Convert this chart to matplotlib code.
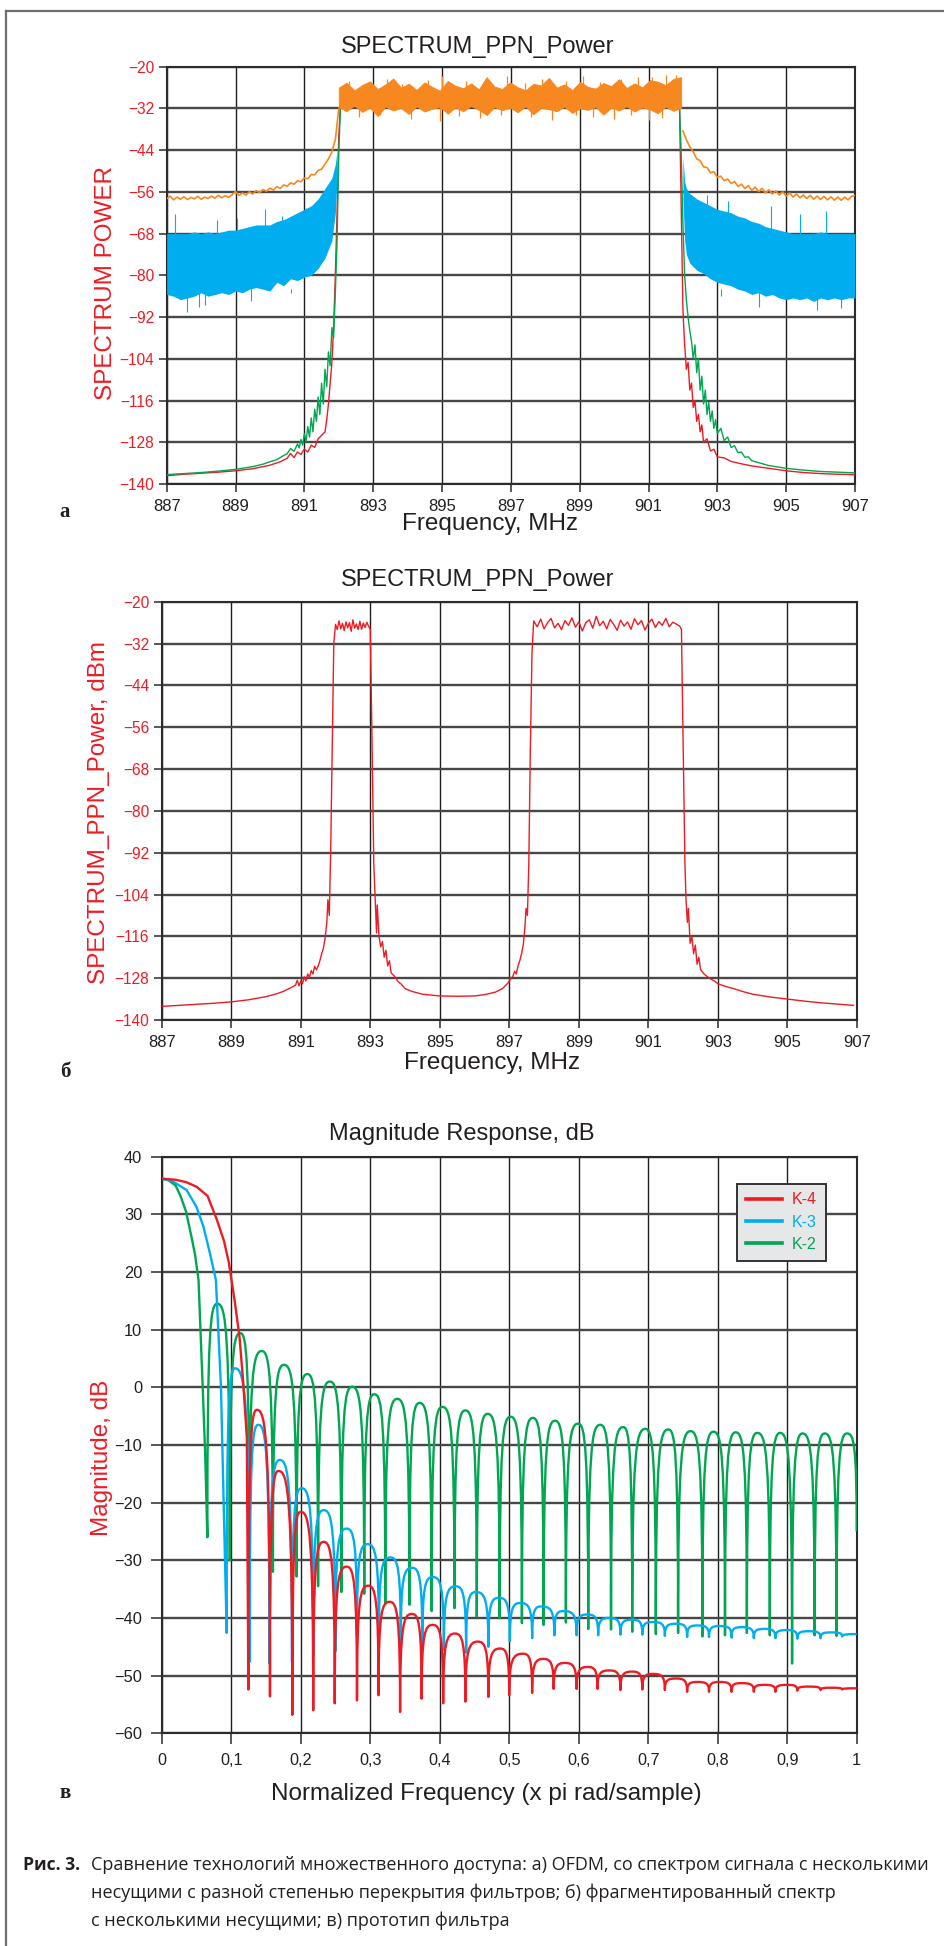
import numpy as np
import matplotlib
matplotlib.use("Agg")
import matplotlib.pyplot as plt
from matplotlib.lines import Line2D
from matplotlib.path import Path
from matplotlib.patches import PathPatch

plt.rcParams['font.family'] = ['Liberation Sans', 'DejaVu Sans']

RED = '#ed1c24'
ORANGE = '#f7871f'
BLUE = '#00aeef'
GREEN = '#00a651'
INK = '#231f20'

# ---------------- data: chart a (four spectra) ----------------
freq_ticks = [887, 889, 891, 893, 895, 897, 899, 901, 903, 905, 907]
power_ticks = [-140, -128, -116, -104, -92, -80, -68, -56, -44, -32, -20]

# orange, skirts sampled every 0.1 MHz
orange_left_x = np.linspace(887.0, 892.0, 51)
orange_left_db = [-58.0, -57.2, -58.3, -57.5, -58.1, -57.4, -58.2, -57.6, -58.0, -57.3,
                  -58.1, -57.5, -57.9, -57.2, -57.8, -57.0, -57.7, -57.1, -57.6, -56.8,
                  -55.9, -57.0, -56.3, -56.9, -56.0, -56.6, -55.6, -56.2, -55.3, -55.8,
                  -54.9, -55.5, -54.5, -55.0, -54.0, -54.4, -53.4, -53.8, -52.8, -53.1,
                  -52.0, -52.2, -51.0, -51.1, -49.8, -49.5, -48.0, -46.5, -44.5, -41.0,
                  -32.0]
orange_right_x = np.linspace(902.0, 907.0, 51)
orange_right_db = [-38.5, -41.0, -43.0, -44.5, -46.5, -47.0, -48.8, -49.0, -50.5, -50.2,
                   -51.8, -51.5, -52.8, -52.3, -53.6, -53.0, -54.4, -53.8, -55.0, -54.2,
                   -55.6, -54.6, -55.9, -55.0, -56.3, -55.4, -56.6, -55.7, -56.9, -56.0,
                   -57.2, -56.3, -57.5, -56.6, -57.7, -56.9, -57.9, -57.0, -58.1, -57.2,
                   -58.2, -57.3, -58.3, -57.4, -58.4, -57.5, -58.4, -57.5, -58.3, -57.3,
                   -57.0]
# orange pass band: upper / lower edge of the noise, plus single spikes
orange_band_x = np.linspace(892.0, 901.95, 45)
orange_band_hi = [-26.0, -24.6, -26.8, -25.3, -24.2, -26.4, -25.1, -23.4, -26.0, -24.9,
                  -26.7, -24.5, -25.8, -26.9, -24.1, -25.5, -26.2, -24.8, -26.5, -23.0,
                  -25.7, -26.4, -24.5, -25.9, -26.8, -24.9, -25.4, -23.2, -26.0, -25.1,
                  -26.7, -24.4, -25.8, -26.3, -24.7, -25.6, -23.6, -26.1, -24.8, -25.9,
                  -23.9, -24.3, -25.3, -23.5, -23.0]
orange_band_lo = [-31.6, -32.8, -31.2, -33.0, -31.8, -34.2, -31.5, -32.6, -31.9, -33.6,
                  -31.4, -32.9, -32.1, -31.6, -33.5, -31.7, -32.8, -31.3, -32.4, -33.9,
                  -31.6, -32.5, -31.8, -33.1, -31.4, -33.7, -31.9, -32.2, -32.8, -31.5,
                  -33.3, -32.0, -32.4, -31.6, -33.8, -31.8, -32.6, -31.4, -32.9, -31.7,
                  -32.3, -33.4, -31.5, -32.7, -31.8]
orange_spike_x = [892.3, 892.9, 893.4, 893.85, 894.6, 895.0, 895.7, 896.3, 896.9, 897.4,
                  897.9, 898.6, 899.1, 899.6, 900.2, 900.7, 901.1, 901.5, 901.8]
orange_spike_top = [-24.0, -24.5, -23.5, -25.0, -23.8, -22.6, -24.2, -23.9, -22.8, -24.6,
                    -23.4, -24.0, -22.6, -24.3, -23.6, -23.1, -22.9, -22.4, -22.3]
orange_dip_x = [892.6, 893.2, 894.1, 894.95, 895.5, 896.1, 896.7, 897.6, 898.2, 898.9,
                899.4, 900.0, 900.5, 901.0, 901.4]
orange_dip_bottom = [-34.5, -34.0, -35.0, -35.5, -34.2, -34.8, -33.8, -34.6, -35.2, -34.0,
                     -34.4, -35.0, -33.9, -35.3, -34.7]

# blue: dense noise band, upper / lower edge
blue_left_x = [887.0, 887.2, 887.4, 887.6, 887.8, 888.0, 888.2, 888.4, 888.6, 888.8,
               889.0, 889.2, 889.4, 889.6, 889.8, 890.0, 890.2, 890.4, 890.6, 890.8,
               891.0, 891.2, 891.4, 891.6, 891.8, 891.9, 891.95]
blue_left_hi = [-68, -68, -68, -68, -67.5, -68, -67.5, -68, -67.5, -67,
                -67, -66.5, -66, -65.5, -65.5, -65.5, -64.5, -64, -63, -62,
                -61, -60, -58, -55, -52, -48, -44]
blue_left_lo = [-85.5, -86, -87, -86.5, -86, -85, -86, -85.5, -85, -85.5,
                -84.5, -85, -84, -83.5, -84, -84.5, -82, -83, -81, -81.5,
                -80.5, -80, -78, -75, -70, -62, -52]
blue_right_x = [902.0, 902.05, 902.1, 902.2, 902.4, 902.6, 902.8, 903.0, 903.2, 903.4,
                903.6, 903.8, 904.0, 904.2, 904.4, 904.6, 904.8, 905.0, 905.2, 905.4,
                905.6, 905.8, 906.0, 906.2, 906.4, 906.6, 906.8, 907.0]
blue_right_hi = [-46, -53, -55, -56.5, -58, -59, -60, -61, -61.5, -62,
                 -63, -63.5, -64.5, -65, -66, -66.5, -67, -67.5, -68, -68,
                 -68, -68, -67.5, -68, -68, -68, -68, -68]
blue_right_lo = [-58, -70, -74, -76.5, -78.5, -79.5, -81, -82, -82.5, -83,
                 -84, -84.5, -85.5, -85, -86, -85.5, -86.5, -87, -86.5, -87,
                 -86.5, -87.5, -86.5, -87, -86.5, -87, -86.5, -86.5]
blue_spike_x = [887.25, 888.45, 889.05, 889.85, 890.35, 891.05, 902.7, 903.3, 904.55, 905.4, 906.15]
blue_spike_top = [-62.5, -64, -63.5, -61, -63, -60.5, -57, -58.5, -60, -62.5, -61.5]
blue_dip_x = [887.6, 887.95, 888.1, 889.45, 890.6, 903.1, 904.2, 905.9, 906.6]
blue_dip_bottom = [-90.5, -89, -88.5, -87.5, -85, -86, -89, -90, -89.5]

green_x = [887.0, 887.5, 888.0, 888.5, 889.0, 889.5, 889.8, 890.0, 890.2, 890.4,
           890.5, 890.6, 890.7, 890.8, 890.85, 890.9, 890.95, 891.0, 891.05, 891.1,
           891.15, 891.2, 891.25, 891.3, 891.35, 891.4, 891.45, 891.5, 891.55, 891.6,
           891.65, 891.7, 891.75, 891.8, 891.85, 891.9, 891.95, 892.0, 892.05, 892.1,
           901.85, 901.9, 901.95, 902.0, 902.05, 902.1, 902.15, 902.2, 902.25, 902.3,
           902.35, 902.4, 902.45, 902.5, 902.55, 902.6, 902.65, 902.7, 902.75, 902.8,
           902.85, 902.9, 902.95, 903.0, 903.1, 903.2, 903.3, 903.4, 903.5, 903.6,
           903.7, 903.8, 903.9, 904.0, 904.25, 904.5, 905.0, 905.5, 906.0, 906.5,
           907.0]
green_db = [-137.3, -137.0, -136.7, -136.3, -135.8, -135.0, -134.3, -133.6, -133.0, -131.8,
            -131.3, -129.8, -130.6, -128.5, -129.6, -127.2, -128.8, -125.5, -127.8, -123.5,
            -126.5, -121.0, -125.0, -118.5, -122.0, -115.0, -120.0, -111.0, -117.0, -107.0,
            -112.0, -102.0, -106.0, -95.0, -98.0, -85.0, -70.0, -45.0, -31.0, -30.5,
            -30.5, -31.0, -45.0, -65.0, -80.0, -87.0, -92.0, -96.0, -99.0, -104.0,
            -100.0, -108.0, -104.0, -113.0, -109.0, -117.0, -113.0, -120.0, -116.5, -122.0,
            -119.0, -124.0, -121.5, -125.5, -124.0, -127.5, -126.5, -129.5, -129.0, -131.0,
            -130.8, -132.3, -132.2, -133.3, -134.0, -134.7, -135.5, -136.0, -136.4, -136.6,
            -136.8]
red_x = [887.0, 887.5, 888.0, 888.5, 889.0, 889.5, 890.0, 890.3, 890.5, 890.6,
         890.7, 890.8, 890.9, 891.0, 891.1, 891.2, 891.3, 891.4, 891.5, 891.6,
         891.65, 891.7, 891.75, 891.8, 891.85, 891.9, 891.95, 892.0, 892.05, 892.1,
         901.85, 901.9, 901.95, 902.0, 902.05, 902.1, 902.15, 902.2, 902.25, 902.3,
         902.35, 902.4, 902.45, 902.5, 902.55, 902.6, 902.7, 902.8, 902.9, 903.0,
         903.2, 903.4, 903.7, 904.0, 904.5, 905.0, 905.5, 906.0, 906.5, 907.0]
red_db = [-137.6, -137.2, -136.9, -136.6, -136.2, -135.6, -134.6, -133.6, -132.6, -131.2,
          -132.4, -130.8, -131.5, -130.0, -130.8, -128.8, -129.5, -127.0, -126.0, -125.0,
          -121.5, -117.0, -111.0, -105.0, -95.0, -80.0, -62.0, -40.0, -31.0, -30.5,
          -30.5, -31.0, -60.0, -90.0, -100.0, -107.0, -105.0, -113.0, -111.0, -118.0,
          -116.0, -122.0, -120.0, -125.0, -123.0, -128.0, -127.0, -130.5, -130.0, -132.2,
          -132.5, -133.5, -134.2, -134.8, -135.5, -136.2, -136.7, -137.0, -137.2, -137.3]

# ---------------- data: chart b (fragmented spectrum) ----------------
ppn_left_x = [887.0, 887.5, 888.0, 888.5, 889.0, 889.5, 890.0, 890.3, 890.5, 890.7,
              890.85, 890.9, 890.95, 891.0, 891.05, 891.1, 891.15, 891.2, 891.25, 891.3,
              891.35, 891.4, 891.45, 891.5, 891.55, 891.6, 891.65, 891.7, 891.75, 891.78,
              891.82, 891.86, 891.9, 891.95]
ppn_left_db = [-136.1, -135.8, -135.5, -135.2, -134.8, -134.2, -133.3, -132.5, -131.8, -130.8,
               -130.0, -128.6, -130.2, -128.8, -129.6, -127.6, -128.8, -126.8, -127.8, -125.8,
               -126.8, -124.6, -125.6, -124.5, -123.0, -121.0, -119.5, -116.5, -112.0, -105.5,
               -110.0, -92.0, -65.0, -32.0]
band1_x = np.linspace(892.0, 892.95, 20)
band1_db = [-26.5, -28.0, -25.5, -27.8, -26.2, -28.3, -25.8, -27.5, -26.0, -28.5,
            -25.2, -27.6, -26.4, -28.0, -25.6, -27.9, -26.1, -27.4, -25.9, -27.0]
valley_x = [893.0, 893.05, 893.1, 893.15, 893.18, 893.2, 893.25, 893.3, 893.35, 893.4,
            893.45, 893.5, 893.55, 893.6, 893.7, 893.8, 893.9, 894.0, 894.2, 894.5,
            895.0, 895.5, 896.0, 896.3, 896.6, 896.8, 896.95, 897.05, 897.1, 897.15,
            897.2, 897.25, 897.3, 897.35, 897.4, 897.45, 897.48, 897.52, 897.56, 897.6,
            897.65]
valley_db = [-28.0, -60.0, -95.0, -108.0, -115.0, -107.0, -116.0, -119.0, -117.5, -122.0,
             -120.0, -124.5, -123.0, -126.5, -127.5, -129.0, -129.8, -131.0, -131.8, -132.6,
             -133.1, -133.2, -133.1, -132.7, -132.0, -131.0, -129.5, -128.0, -127.5, -126.0,
             -126.8, -124.5, -123.0, -121.0, -118.5, -113.0, -108.0, -110.0, -95.0, -65.0,
             -35.0]
band2_x = np.linspace(897.7, 901.9, 43)
band2_db = [-25.5, -27.2, -25.0, -27.8, -26.0, -24.8, -27.5, -26.2, -28.0, -25.4,
            -26.8, -24.6, -27.3, -25.8, -28.4, -26.0, -25.2, -27.6, -24.2, -26.9,
            -25.6, -27.8, -25.1, -26.5, -28.2, -25.3, -27.0, -25.8, -27.9, -24.9,
            -26.6, -25.4, -28.1, -26.2, -25.0, -27.4, -25.7, -26.8, -24.8, -27.2,
            -25.9, -26.4, -27.0]
ppn_right_x = [901.95, 902.0, 902.05, 902.08, 902.12, 902.15, 902.2, 902.25, 902.3, 902.35,
               902.4, 902.45, 902.5, 902.6, 902.7, 902.8, 902.9, 903.0, 903.2, 903.45,
               903.7, 904.0, 904.5, 905.0, 905.5, 906.0, 906.5, 906.9]
ppn_right_db = [-28.0, -62.0, -95.0, -105.0, -112.0, -108.0, -118.0, -116.0, -121.0, -118.5,
                -124.0, -122.0, -125.5, -126.8, -127.6, -128.3, -128.8, -129.6, -130.3, -131.0,
                -131.8, -132.6, -133.4, -134.0, -134.6, -135.1, -135.5, -135.8]

# ---------------- data: chart c (filter prototypes) ----------------
norm_ticks = [0, 0.1, 0.2, 0.3, 0.4, 0.5, 0.6, 0.7, 0.8, 0.9, 1.0]
norm_tick_labels = ['0', '0,1', '0,2', '0,3', '0,4', '0,5', '0,6', '0,7', '0,8', '0,9', '1']
mag_ticks = [-60, -50, -40, -30, -20, -10, 0, 10, 20, 30, 40]

# K-4 (red)
k4_main_x = [0, 0.02, 0.035, 0.05, 0.066, 0.079, 0.0896, 0.0965, 0.105, 0.112, 0.117, 0.1225, 0.1247]
k4_main_db = [36.2, 36.0, 35.6, 34.8, 33.2, 29.2, 25.4, 21.7, 15.0, 8.7, 1.3, -8.6, -52.4]
k4_peak_x = [0.137, 0.168, 0.2, 0.233, 0.266, 0.297, 0.328, 0.36, 0.39, 0.422,
             0.455, 0.487, 0.52, 0.549, 0.58, 0.613, 0.644, 0.677, 0.707, 0.74,
             0.771, 0.803, 0.834, 0.867, 0.9, 0.931, 0.963, 1.0]
k4_peak_db = [-3.9, -14.5, -21.6, -26.8, -31.1, -34.4, -37.2, -39.3, -41.2, -42.7,
              -44.1, -45.3, -46.2, -47.1, -47.8, -48.5, -49.1, -49.3, -49.7, -50.5,
              -51.1, -51.1, -51.3, -51.6, -51.6, -51.9, -52.1, -52.2]
k4_null_x = [0.1558, 0.188, 0.218, 0.249, 0.281, 0.312, 0.343, 0.374, 0.405, 0.437,
             0.47, 0.5, 0.533, 0.564, 0.597, 0.627, 0.66, 0.6915, 0.724, 0.756,
             0.7875, 0.82, 0.852, 0.883, 0.9145, 0.948, 0.979]
k4_null_db = [-53.6, -56.8, -56.0, -54.8, -54.3, -53.4, -56.3, -54.0, -54.8, -54.5,
              -53.7, -53.4, -53.0, -52.3, -52.3, -52.3, -52.5, -52.4, -52.5, -52.8,
              -52.8, -52.8, -52.8, -52.8, -52.6, -52.5, -52.4]

# K-3 (blue)
k3_main_x = [0, 0.015, 0.036, 0.05, 0.06, 0.0695, 0.078, 0.0853, 0.0935]
k3_main_db = [36.2, 35.8, 34.2, 31.3, 27.9, 23.2, 18.6, 0.0, -42.6]
k3_peak_x = [0.1055, 0.139, 0.170, 0.2014, 0.233, 0.266, 0.296, 0.329, 0.360, 0.390,
             0.423, 0.452, 0.485, 0.516, 0.546, 0.578, 0.612, 0.644, 0.677, 0.707,
             0.740, 0.771, 0.803, 0.834, 0.867, 0.900, 0.931, 0.963, 1.0]
k3_peak_db = [3.3, -6.5, -12.6, -17.5, -21.3, -24.5, -27.2, -29.5, -31.3, -32.9,
              -34.5, -35.5, -36.5, -37.4, -38.0, -38.8, -39.4, -40.0, -40.3, -40.7,
              -41.0, -41.3, -41.4, -41.6, -41.9, -42.1, -42.3, -42.5, -42.8]
k3_null_x = [0.1265, 0.155, 0.1875, 0.218, 0.2498, 0.281, 0.3125, 0.344, 0.375, 0.406,
             0.438, 0.47, 0.501, 0.533, 0.565, 0.597, 0.628, 0.66, 0.6915, 0.724,
             0.756, 0.7875, 0.82, 0.852, 0.883, 0.9145, 0.948, 0.979]
k3_null_db = [-47.6, -47.9, -47.6, -46.7, -45.8, -43.0, -44.0, -44.5, -45.0, -45.5,
              -46.0, -45.0, -44.0, -43.5, -43.0, -43.0, -43.0, -42.9, -42.9, -43.1,
              -43.3, -43.3, -43.4, -43.5, -43.5, -43.6, -43.5, -43.2]

# K-2 (green)
k2_main_x = [0, 0.01, 0.02, 0.027, 0.035, 0.043, 0.048, 0.053, 0.059, 0.0627, 0.0657]
k2_main_db = [36.2, 35.9, 35.0, 33.2, 30.5, 26.0, 23.0, 18.6, 0.0, -12.0, -26.0]
k2_peak_x = [0.080, 0.113, 0.144, 0.176, 0.2095, 0.242, 0.274, 0.306, 0.339, 0.371,
             0.404, 0.437, 0.469, 0.502, 0.534, 0.566, 0.599, 0.631, 0.664, 0.696,
             0.729, 0.761, 0.794, 0.826, 0.857, 0.890, 0.922, 0.954, 0.986]
k2_peak_db = [14.5, 9.4, 6.3, 3.9, 2.3, 1.0, 0.1, -1.2, -2.0, -2.7,
              -3.4, -4.0, -4.6, -5.1, -5.3, -5.8, -6.3, -6.5, -6.9, -7.2,
              -7.3, -7.6, -7.7, -7.8, -7.9, -7.9, -8.0, -8.0, -8.0]
k2_null_x = [0.098, 0.126, 0.160, 0.194, 0.225, 0.2585, 0.2914, 0.3217, 0.3564, 0.3884,
             0.4213, 0.4534, 0.4863, 0.5183, 0.5495, 0.5816, 0.6137, 0.6465, 0.677, 0.711,
             0.743, 0.778, 0.8105, 0.842, 0.875, 0.907, 0.9395, 0.971, 1.0]
k2_null_db = [-30.0, -30.0, -32.0, -32.8, -34.5, -35.5, -35.8, -37.6, -37.7, -38.8,
              -38.3, -39.8, -40.0, -40.9, -41.2, -40.8, -41.9, -42.0, -42.4, -42.8,
              -42.6, -43.2, -43.0, -42.6, -43.0, -47.9, -43.0, -43.1, -25.0]

legend_names = ['K-4', 'K-3', 'K-2']

caption_head = 'Рис. 3.'
caption_lines = ['Сравнение технологий множественного доступа: а) OFDM, со спектром сигнала с несколькими',
                 'несущими с разной степенью перекрытия фильтров; б) фрагментированный спектр',
                 'с несколькими несущими; в) прототип фильтра']

# ---------------- layout helpers ----------------
W, H = 944, 1946
fig = plt.figure(figsize=(W / 100, H / 100), dpi=100)


def px_axes(left, top, right, bottom):
    return fig.add_axes([left / W, 1 - bottom / H, (right - left) / W, (bottom - top) / H])


def ftext(x, y, s, **kw):
    return fig.text(x / W, 1 - y / H, s, **kw)


def style_axes(ax, ylabel_color, ysize, xsize):
    ax.set_axisbelow(True)
    ax.xaxis.grid(True, color='#1e1e1e', lw=1.0)
    ax.yaxis.grid(True, color='#474747', lw=1.7)
    for s in ax.spines.values():
        s.set_color('#2b2b2b')
        s.set_linewidth(1.5)
    ax.tick_params(axis='y', direction='out', length=6, width=1.1, color='#2b2b2b',
                   labelcolor=ylabel_color, labelsize=ysize, pad=3)
    ax.tick_params(axis='x', direction='out', length=6, width=1.1, color='#2b2b2b',
                   labelcolor=INK, labelsize=xsize, pad=5)


def draw_response(ax, main_x, main_db, peak_x, peak_db, null_x, null_db, color):
    # main lobe as a polyline, side lobes as arches between peaks and nulls
    verts = list(zip(main_x, main_db))
    codes = [Path.MOVETO] + [Path.LINETO] * (len(main_x) - 1)
    ext = []
    for i in range(len(peak_x)):
        ext.append((peak_x[i], peak_db[i]))
        if i < len(null_x):
            ext.append((null_x[i], null_db[i]))
    xa, ya = verts[-1]
    for xb, yb in ext:
        if yb > ya:
            c1 = (xa, ya + 0.9 * (yb - ya))
            c2 = (xa + 0.3 * (xb - xa), yb)
        else:
            c1 = (xb - 0.3 * (xb - xa), ya)
            c2 = (xb, yb + 0.9 * (ya - yb))
        verts += [c1, c2, (xb, yb)]
        codes += [Path.CURVE4] * 3
        xa, ya = xb, yb
    ax.add_patch(PathPatch(Path(verts, codes), fill=False, edgecolor=color, lw=1.7,
                           joinstyle='round', zorder=3))


# ---------------- chart a ----------------
ax1 = px_axes(166.7, 66.7, 855, 484)
ax1.plot(red_x, red_db, color=RED, lw=1.0, zorder=3)
ax1.plot(green_x, green_db, color=GREEN, lw=1.0, zorder=3)
ax1.fill_between(blue_left_x, blue_left_lo, blue_left_hi, color=BLUE, lw=0, zorder=4)
ax1.fill_between(blue_right_x, blue_right_lo, blue_right_hi, color=BLUE, lw=0, zorder=4)
ax1.vlines(blue_spike_x, -70, blue_spike_top, color=BLUE, lw=0.8, zorder=4)
ax1.vlines(blue_dip_x, -84, blue_dip_bottom, color=BLUE, lw=0.8, zorder=4)
ax1.plot(orange_left_x, orange_left_db, color=ORANGE, lw=1.2, zorder=5)
ax1.plot(orange_right_x, orange_right_db, color=ORANGE, lw=1.2, zorder=5)
ax1.fill_between(orange_band_x, orange_band_lo, orange_band_hi, color=ORANGE, lw=0.6, zorder=5)
ax1.vlines(orange_spike_x, -28, orange_spike_top, color=ORANGE, lw=0.9, zorder=5)
ax1.vlines(orange_dip_x, -31, orange_dip_bottom, color=ORANGE, lw=0.9, zorder=5)
ax1.set_xlim(887, 907)
ax1.set_ylim(-140, -20)
ax1.set_xticks(freq_ticks)
ax1.set_yticks(power_ticks)
style_axes(ax1, RED, 11.2, 12)

# ---------------- chart b ----------------
ax2 = px_axes(161.7, 601.7, 857, 1020)
ppn_x = np.concatenate([ppn_left_x, band1_x, valley_x, band2_x, ppn_right_x])
ppn_db = np.concatenate([ppn_left_db, band1_db, valley_db, band2_db, ppn_right_db])
ax2.plot(ppn_x, ppn_db, color=RED, lw=1.0, zorder=3)
ax2.set_xlim(887, 907)
ax2.set_ylim(-140, -20)
ax2.set_xticks(freq_ticks)
ax2.set_yticks(power_ticks)
style_axes(ax2, RED, 11.2, 12)

# ---------------- chart c ----------------
ax3 = px_axes(161.7, 1156.7, 856.7, 1733.3)
draw_response(ax3, k2_main_x, k2_main_db, k2_peak_x, k2_peak_db, k2_null_x, k2_null_db, GREEN)
draw_response(ax3, k3_main_x, k3_main_db, k3_peak_x, k3_peak_db, k3_null_x, k3_null_db, BLUE)
draw_response(ax3, k4_main_x, k4_main_db, k4_peak_x, k4_peak_db, k4_null_x, k4_null_db, RED)
ax3.set_xlim(0, 1)
ax3.set_ylim(-60, 40)
ax3.set_xticks(norm_ticks)
ax3.set_xticklabels(norm_tick_labels)
ax3.set_yticks(mag_ticks)
style_axes(ax3, INK, 11.8, 11.7)
ax3.tick_params(axis='both', length=8, pad=6)
handles = [Line2D([], [], color=c, lw=2.6) for c in (RED, BLUE, GREEN)]
leg = ax3.legend(handles, legend_names, loc='upper right', bbox_to_anchor=(0.967, 0.967),
                 fontsize=11.5, frameon=True, fancybox=False, handlelength=2.3,
                 handletextpad=0.6, borderpad=0.55, labelspacing=0.45)
leg.get_frame().set_facecolor('#e6e7e8')
leg.get_frame().set_edgecolor('#333333')
leg.get_frame().set_linewidth(1.4)
leg.get_frame().set_alpha(1)
for txt, c in zip(leg.get_texts(), (RED, BLUE, GREEN)):
    txt.set_color(c)

# ---------------- texts ----------------
title_kw = dict(ha='center', va='baseline', fontsize=17, color=INK)
ftext(478, 53, 'SPECTRUM_PPN_Power', **title_kw)
ftext(478, 586, 'SPECTRUM_PPN_Power', **title_kw)
ftext(462, 1140, 'Magnitude Response, dB', **title_kw)

ylab_kw = dict(ha='center', va='center', rotation=90, fontsize=17.5, color=RED)
ftext(106, 283, 'SPECTRUM POWER', **ylab_kw)
ftext(99, 812, 'SPECTRUM_PPN_Power, dBm', **ylab_kw)
ftext(102, 1458, 'Magnitude, dB', **ylab_kw)

xlab_kw = dict(ha='center', va='baseline', fontsize=17.5, color=INK)
ftext(490, 530, 'Frequency, MHz', **xlab_kw)
ftext(492, 1069, 'Frequency, MHz', **xlab_kw)
ftext(486, 1800, 'Normalized Frequency (x pi rad/sample)', **xlab_kw)

panel_kw = dict(ha='center', va='baseline', fontsize=15, fontweight='bold',
                family=['Liberation Serif', 'DejaVu Serif'], color=INK)
ftext(65, 517, 'а', **panel_kw)
ftext(65, 1077, 'б', **panel_kw)
ftext(65, 1798, 'в', **panel_kw)

cap_kw = dict(ha='left', va='baseline', color=INK, family=['Open Sans', 'DejaVu Sans'])
ftext(23, 1870, caption_head, fontweight='bold', fontsize=12.6, **cap_kw)
for i, line in enumerate(caption_lines):
    ftext(90.7, 1870 + 28 * i, line, fontsize=13.0, **cap_kw)

# frame around the figure
fig.add_artist(Line2D([6 / W, 6 / W], [0, 1 - 10.7 / H], transform=fig.transFigure,
                      color='#6d6e71', lw=1.6))
fig.add_artist(Line2D([6 / W, 1], [1 - 10.7 / H, 1 - 10.7 / H], transform=fig.transFigure,
                      color='#6d6e71', lw=1.6))

fig.savefig('out.png', dpi=100)
